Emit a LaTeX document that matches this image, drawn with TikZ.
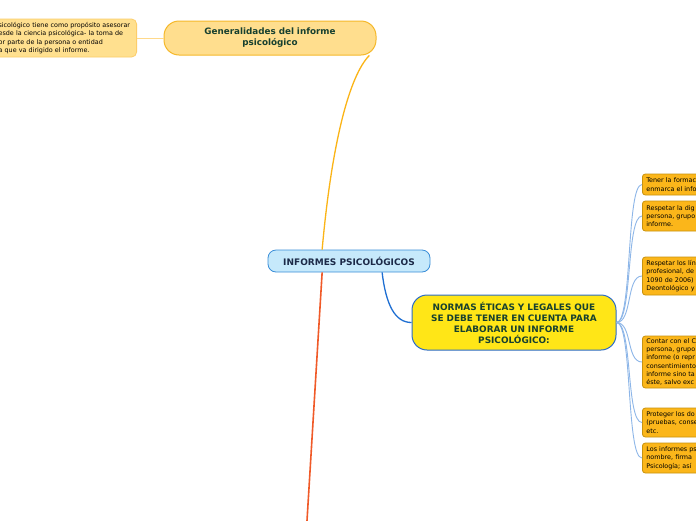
\documentclass[tikz,border=0pt]{standalone}
\usepackage{fontspec}
\usetikzlibrary{calc}
\setmainfont{DejaVu Sans}
\definecolor{genfill}{HTML}{FFDE8E}
\definecolor{gendraw}{HTML}{F5B82A}
\definecolor{lfill}{HTML}{FFE08F}
\definecolor{ldraw}{HTML}{FCCD6A}
\definecolor{cfill}{HTML}{C6E9FB}
\definecolor{cdraw}{HTML}{3A8ED8}
\definecolor{nfill}{HTML}{FFE617}
\definecolor{ndraw}{HTML}{2B6CC9}
\definecolor{rfill}{HTML}{FBB61A}
\definecolor{rdraw}{HTML}{C8920E}
\definecolor{ttext}{HTML}{17402F}
\definecolor{ctext}{HTML}{1C2A48}
\definecolor{orangeline}{HTML}{FBB416}
\definecolor{redline}{HTML}{F05A28}
\definecolor{blueline}{HTML}{1F6FD2}
\definecolor{lightblueline}{HTML}{8DB6E8}
\definecolor{lorangeline}{HTML}{FFD98A}
\tikzset{
  small/.style={font=\fontsize{6.4}{8.3}\selectfont, text=black},
  rbox/.style={small, draw=rdraw, fill=rfill, rounded corners=3pt, line width=0.8pt,
    anchor=west, text width=110pt, align=left, inner xsep=4pt, inner ysep=0pt},
  branch/.style={lightblueline, line width=0.9pt},
}
\begin{document}
\begin{tikzpicture}[x=1pt,y=-1pt]
\useasboundingbox (0,0) rectangle (696,520);
\clip (0,0) rectangle (696,520);
\fill[white] (0,0) rectangle (696,520);

% left box
\node[small, draw=ldraw, fill=lfill, rounded corners=5pt, line width=0.8pt,
  anchor=east, text width=134pt, align=left, inner xsep=4pt, inner ysep=0pt,
  minimum height=38pt] (l) at (137,38)
  {sicológico tiene como propósito asesorar\\esde la ciencia psicológica- la toma de\\or parte de la persona o entidad\\a que va dirigido el informe.};

% generalidades
\node[draw=gendraw, fill=genfill, rounded corners=15pt, line width=1pt,
  minimum width=212pt, minimum height=34pt, text width=180pt, align=center,
  inner sep=0pt, text=ttext, font=\bfseries\fontsize{8.8}{11}\selectfont] (g) at (270,38)
  {Generalidades del informe\\psicológico};

% central
\node[draw=cdraw, fill=cfill, rounded corners=8pt, line width=0.8pt,
  minimum width=162pt, minimum height=22pt, inner sep=0pt, text=ctext,
  font=\bfseries\fontsize{9}{10}\selectfont] (c) at (349,261) {INFORMES PSICOLÓGICOS};

% normas
\node[draw=ndraw, fill=nfill, rounded corners=15pt, line width=1pt,
  minimum width=204pt, minimum height=55pt, text width=196pt, align=center,
  inner sep=0pt, text=ttext, font=\bfseries\fontsize{8.9}{11}\selectfont] (n) at (514,322.5)
  {NORMAS ÉTICAS Y LEGALES QUE\\SE DEBE TENER EN CUENTA PARA\\ELABORAR UN INFORME\\PSICOLÓGICO:};

% right boxes
\node[rbox, minimum height=21pt] (r1) at (642,184.5) {Tener la formac\\enmarca el info};
\node[rbox, minimum height=30pt] (r2) at (642,216) {Respetar la dig\\persona, grupo\\informe.};
\node[rbox, minimum height=38pt] (r3) at (642,276) {Respetar los lín\\profesional, de\\1090 de 2006)\\Deontológico y};
\node[rbox, minimum height=52pt] (r4) at (642,362) {Contar con el C\\persona, grupo\\informe (o repr\\consentimiento\\informe sino ta\\éste, salvo exc};
\node[rbox, minimum height=29pt] (r5) at (642,422.5) {Proteger los do\\(pruebas, conse\\etc.};
\node[rbox, minimum height=30pt] (r6) at (642,458) {Los informes ps\\nombre, firma\\Psicología; así};

\coordinate (b) at (304.6,560);

% connectors
\draw[lorangeline, line width=0.9pt] (l.east) -- (g.west);
\draw[orangeline, line width=1.3pt] (c.157) .. controls (332,140) and (350,75) .. (g.-10);
\draw[redline, line width=1.6pt] (c.203) -- (b);
\draw[blueline, line width=1.3pt] (c.-19.5) .. controls (386,305) and (395,322.5) .. (n.west);
\foreach \r in {r1,r2,r3,r4,r5,r6}{
  \draw[branch] (n.east) .. controls ($(n.east)+(16,0)$) and ($(\r.west)+(-16,0)$) .. (\r.west);
}
\end{tikzpicture}
\end{document}
